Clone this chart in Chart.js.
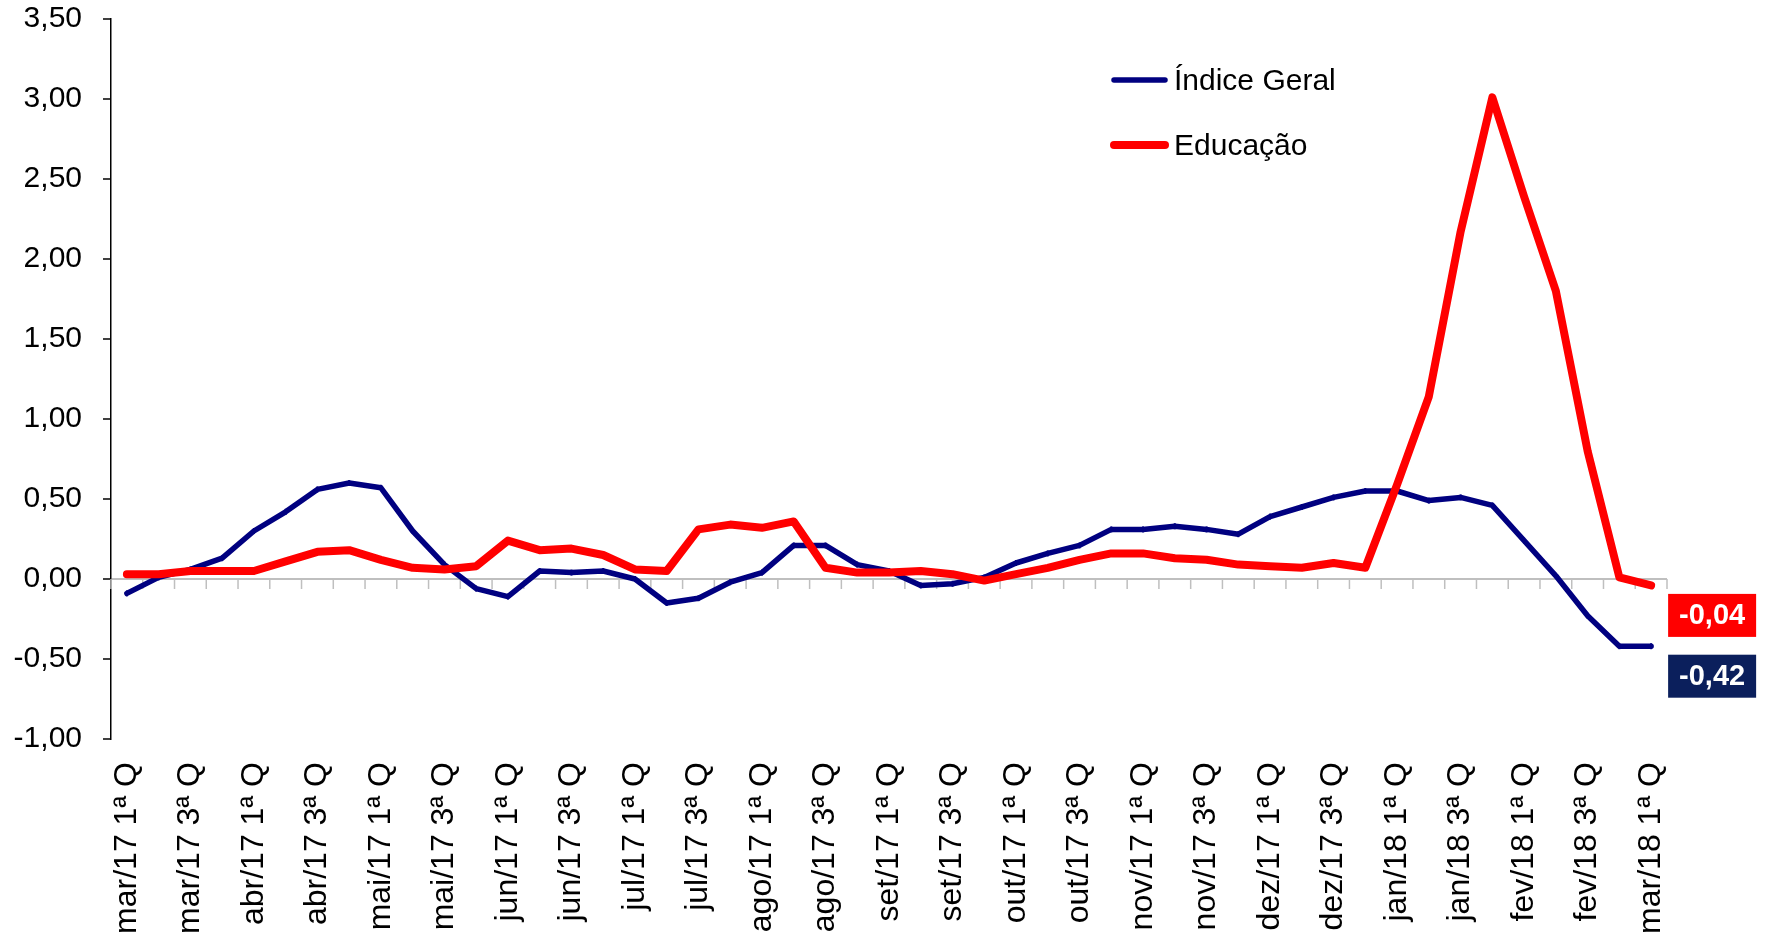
<!DOCTYPE html>
<html lang="pt">
<head>
<meta charset="UTF-8">
<title>Índice Geral x Educação</title>
<script src="https://cdn.jsdelivr.net/npm/chart.js"></script>
<style>
  body { margin: 0; background: #fff; }
  canvas { display: block; }
</style>
</head>
<body>
<canvas id="myChart" width="1767" height="933"></canvas>
<script>
// categorias (quadrissemanas), só as ímpares aparecem no eixo
const categories = [
  'mar/17 1ª Q', 'mar/17 2ª Q', 'mar/17 3ª Q', 'mar/17 4ª Q',
  'abr/17 1ª Q', 'abr/17 2ª Q', 'abr/17 3ª Q', 'abr/17 4ª Q',
  'mai/17 1ª Q', 'mai/17 2ª Q', 'mai/17 3ª Q', 'mai/17 4ª Q',
  'jun/17 1ª Q', 'jun/17 2ª Q', 'jun/17 3ª Q', 'jun/17 4ª Q',
  'jul/17 1ª Q', 'jul/17 2ª Q', 'jul/17 3ª Q', 'jul/17 4ª Q',
  'ago/17 1ª Q', 'ago/17 2ª Q', 'ago/17 3ª Q', 'ago/17 4ª Q',
  'set/17 1ª Q', 'set/17 2ª Q', 'set/17 3ª Q', 'set/17 4ª Q',
  'out/17 1ª Q', 'out/17 2ª Q', 'out/17 3ª Q', 'out/17 4ª Q',
  'nov/17 1ª Q', 'nov/17 2ª Q', 'nov/17 3ª Q', 'nov/17 4ª Q',
  'dez/17 1ª Q', 'dez/17 2ª Q', 'dez/17 3ª Q', 'dez/17 4ª Q',
  'jan/18 1ª Q', 'jan/18 2ª Q', 'jan/18 3ª Q', 'jan/18 4ª Q',
  'fev/18 1ª Q', 'fev/18 2ª Q', 'fev/18 3ª Q', 'fev/18 4ª Q',
  'mar/18 1ª Q'
];

const indiceGeral = [
  -0.09, 0.01, 0.06, 0.13, 0.30, 0.42, 0.56, 0.60, 0.57, 0.30,
  0.09, -0.06, -0.11, 0.05, 0.04, 0.05, 0.00, -0.15, -0.12, -0.02,
  0.04, 0.21, 0.21, 0.09, 0.05, -0.04, -0.03, 0.01, 0.10, 0.16,
  0.21, 0.31, 0.31, 0.33, 0.31, 0.28, 0.39, 0.45, 0.51, 0.55,
  0.55, 0.49, 0.51, 0.46, 0.24, 0.02, -0.23, -0.42, -0.42
];

const educacao = [
  0.03, 0.03, 0.05, 0.05, 0.05, 0.11, 0.17, 0.18, 0.12, 0.07,
  0.06, 0.08, 0.24, 0.18, 0.19, 0.15, 0.06, 0.05, 0.31, 0.34,
  0.32, 0.36, 0.07, 0.04, 0.04, 0.05, 0.03, -0.01, 0.03, 0.07,
  0.12, 0.16, 0.16, 0.13, 0.12, 0.09, 0.08, 0.07, 0.10, 0.07,
  0.59, 1.14, 2.17, 3.01, 2.39, 1.80, 0.80, 0.01, -0.04
];

const yMin = -1;
const yMax = 3.5;
const yStep = 0.5;

const FONT = '"Liberation Sans", Arial, sans-serif';
const fmt = v => Number(v).toFixed(2).replace('.', ',');

// linha do zero com marquinhas entre as categorias
const zeroAxis = {
  id: 'zeroAxis',
  beforeDatasetsDraw(chart) {
    const { ctx, scales: { x, y } } = chart;
    const y0 = y.getPixelForValue(0);
    const half = (x.getPixelForValue(1) - x.getPixelForValue(0)) / 2;
    ctx.save();
    ctx.strokeStyle = '#BFBFBF';
    ctx.lineWidth = 1.5;
    for (let i = 0; i <= categories.length; i++) {
      const px = x.getPixelForValue(i) - half;
      ctx.beginPath();
      ctx.moveTo(px, y0);
      ctx.lineTo(px, y0 + 10);
      ctx.stroke();
    }
    ctx.restore();
  }
};

// rótulos do último valor em caixas coloridas
const lastLabels = {
  id: 'lastLabels',
  afterDatasetsDraw(chart) {
    const { ctx } = chart;
    chart.data.datasets.forEach((ds, di) => {
      const meta = chart.getDatasetMeta(di);
      const pt = meta.data[meta.data.length - 1];
      const w = 88, h = 43;
      const left = pt.x + 17;
      const top = pt.y + 30 - h / 2;
      ctx.save();
      ctx.fillStyle = ds.boxColor;
      ctx.fillRect(left, top, w, h);
      ctx.fillStyle = '#fff';
      ctx.font = 'bold 29px ' + FONT;
      ctx.textAlign = 'center';
      ctx.textBaseline = 'middle';
      ctx.fillText(fmt(ds.data[ds.data.length - 1]), left + w / 2, top + h / 2 + 1);
      ctx.restore();
    });
  }
};

// legenda dentro da área do gráfico
const innerLegend = {
  id: 'innerLegend',
  afterDraw(chart) {
    const { ctx } = chart;
    const rows = [
      { ds: chart.data.datasets[0], y: 82 },
      { ds: chart.data.datasets[1], y: 147 }
    ];
    ctx.save();
    rows.forEach(r => {
      ctx.strokeStyle = r.ds.borderColor;
      ctx.lineWidth = r.ds.borderWidth;
      ctx.lineCap = 'round';
      ctx.beginPath();
      ctx.moveTo(1114, r.y - 2);
      ctx.lineTo(1165, r.y - 2);
      ctx.stroke();
      ctx.fillStyle = '#000';
      ctx.font = '30px ' + FONT;
      ctx.textAlign = 'left';
      ctx.textBaseline = 'middle';
      ctx.fillText(r.ds.label, 1174, r.y);
    });
    ctx.restore();
  }
};

const ctx = document.getElementById('myChart').getContext('2d');
const myChart = new Chart(ctx, {
  type: 'line',
  data: {
    labels: categories,
    datasets: [{
      label: 'Índice Geral',
      data: indiceGeral,
      borderColor: '#000080',
      backgroundColor: '#000080',
      boxColor: '#0B1F5C',
      borderWidth: 5.5,
      pointStyle: 'line',
      rotation: 90,
      pointRadius: 3,
      pointBorderWidth: 2,
      borderCapStyle: 'round',
      borderJoinStyle: 'round',
      tension: 0,
      order: 1
    }, {
      label: 'Educação',
      data: educacao,
      borderColor: '#FF0000',
      backgroundColor: '#FF0000',
      boxColor: '#FF0000',
      borderWidth: 8,
      pointRadius: 0,
      borderCapStyle: 'round',
      borderJoinStyle: 'round',
      tension: 0,
      order: 0
    }]
  },
  options: {
    responsive: false,
    devicePixelRatio: 1,
    animation: false,
    layout: { padding: { top: 19, right: 100, left: 0, bottom: 0 } },
    plugins: {
      legend: { display: false },
      tooltip: { enabled: false }
    },
    scales: {
      x: {
        offset: true,
        grid: { display: false },
        border: { display: false },
        ticks: {
          autoSkip: false,
          maxRotation: 90,
          minRotation: 90,
          padding: 15,
          color: '#000',
          font: { size: 32, family: FONT },
          callback: (v, i) => (i % 2 === 0 ? categories[i] : '')
        },
        afterFit: scale => { scale.height = 194; }
      },
      y: {
        min: yMin,
        max: yMax,
        ticks: {
          stepSize: yStep,
          padding: 21,
          color: '#000',
          font: { size: 30, family: FONT },
          callback: v => fmt(v)
        },
        grid: {
          color: c => (c.tick && c.tick.value === 0 ? '#BFBFBF' : 'rgba(0,0,0,0)'),
          lineWidth: 2,
          tickColor: '#000',
          tickLength: 8,
          tickWidth: 1.5
        },
        border: { display: true, color: '#000', width: 1.5 },
        afterFit: scale => {
          scale.width = 111;
          scale.paddingTop = 0;
          scale.paddingBottom = 0;
        }
      }
    }
  },
  plugins: [zeroAxis, lastLabels, innerLegend]
});
</script>
</body>
</html>
